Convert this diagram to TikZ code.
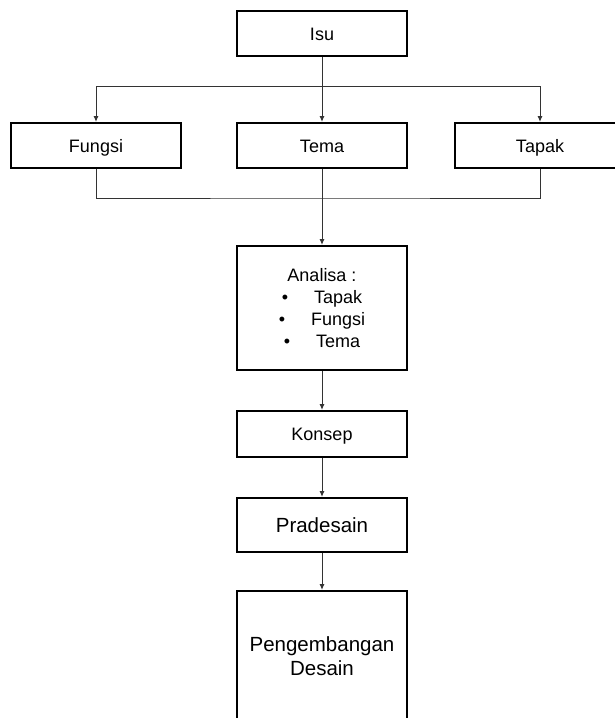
\documentclass[tikz,border=0pt]{standalone}
\usepackage{fontspec}
\setmainfont{Liberation Sans}
\usetikzlibrary{positioning,arrows.meta}

\begin{document}
\begin{tikzpicture}[x=1pt, y=-1pt,
    main/.style = {draw, line width=2pt, minimum width=170pt, align=center, font=\fontsize{18}{22}\selectfont},
    oneline/.style = {text height=13pt, text depth=0pt},
    big/.style = {font=\fontsize{20.5}{24}\selectfont},
    line/.style = {draw=black!80, line width=1pt},
    arrow/.style = {line, -{Latex[length=6pt,width=5pt]}}]
    \useasboundingbox (0,0) rectangle (615,718);
    \node[main, oneline, minimum height=45pt] (isu) at (322,33.5) {Isu};
    \node[main, oneline, minimum height=45pt] (tema) [below=65pt of isu] {Tema};
    \node[main, oneline, minimum height=45pt] (fungsi) [left=54pt of tema] {Fungsi};
    \node[main, oneline, minimum height=45pt] (tapak) [right=46pt of tema] {Tapak};
    \node[main, minimum height=124pt] (analisa) [below=76pt of tema]
        {Analisa :\\ \textbullet\hspace{26pt}Tapak\\ \textbullet\hspace{26pt}Fungsi\\ \textbullet\hspace{26pt}Tema};
    \node[main, oneline, minimum height=46pt] (konsep) [below=39pt of analisa] {Konsep};
    \node[main, big, oneline, text height=14.7pt, minimum height=54pt] (pradesain) [below=39pt of konsep] {Pradesain};
    \node[main, big, minimum height=130pt] (pengembangan) [below=37pt of pradesain] {Pengembangan\\ Desain};
    \coordinate (bar) at (322,86);
    \coordinate (join) at (322,198);
    \draw[arrow] (isu) -- (tema);
    \draw[arrow] (tema.north |- bar) -| (fungsi.north);
    \draw[arrow] (tema.north |- bar) -| (tapak.north);
    \draw[line] (fungsi.south) |- (join) -| (tapak.south);
    \draw[arrow] (tema) -- (analisa);
    \draw[arrow] (analisa) -- (konsep);
    \draw[arrow] (konsep) -- (pradesain);
    \draw[arrow] (pradesain) -- (pengembangan);
\end{tikzpicture}
\end{document}
